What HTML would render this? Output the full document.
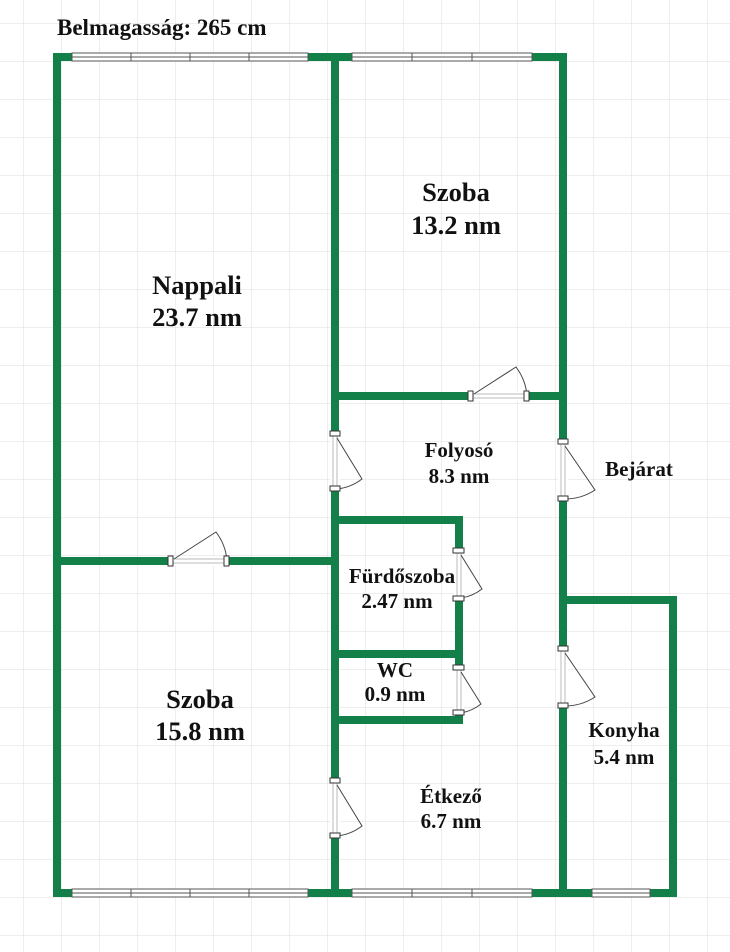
<!DOCTYPE html>
<html><head><meta charset="utf-8"><style>
html,body{margin:0;padding:0;background:#fff}
svg{display:block}
text{font-family:"Liberation Serif",serif;font-weight:bold;fill:#111}
</style></head><body>
<svg width="730" height="952" viewBox="0 0 730 952" xmlns="http://www.w3.org/2000/svg">
<defs>
<pattern id="g" x="23" y="23" width="38" height="38" patternUnits="userSpaceOnUse">
<path d="M0 0H38M0 0V38" stroke="#dedede" stroke-width="1" fill="none"/>
</pattern>
</defs>
<rect width="730" height="952" fill="url(#g)"/>
<g stroke="#13804a" stroke-width="8" fill="none" stroke-linecap="square">
<path d="M57 57H563V396"/>
<path d="M57 57V893H673V600H563"/>
<path d="M335 57V893"/>
<path d="M335 396H563"/>
<path d="M57 561H335"/>
<path d="M335 520H459V720H335"/>
<path d="M335 654H459"/>
<path d="M563 396V893"/>
</g>
<g fill="#fff" stroke="#555" stroke-width="1">
<rect x="72" y="53" width="236" height="8"/>
<rect x="352" y="53" width="180" height="8"/>
<rect x="72" y="889" width="236" height="8"/>
<rect x="352" y="889" width="180" height="8"/>
<rect x="592" y="889" width="58" height="8"/>
</g>
<g stroke="#555" stroke-width="1">
<path d="M72 57H308M352 57H532M72 893H308M352 893H532M592 893H650"/>
<path d="M131 53V61M190 53V61M249 53V61M412 53V61M472 53V61M131 889V897M190 889V897M249 889V897M412 889V897M472 889V897"/>
</g>
<g fill="#fff" stroke="none">
<rect x="470" y="391" width="57" height="10"/>
<rect x="170" y="556" width="57" height="10"/>
<rect x="330" y="433" width="10" height="56"/>
<rect x="330" y="780" width="10" height="56"/>
<rect x="558" y="441" width="10" height="58"/>
<rect x="558" y="648" width="10" height="58"/>
<rect x="454" y="550" width="10" height="48"/>
<rect x="454" y="667" width="10" height="46"/>
</g>
<g fill="none" stroke="#bbb" stroke-width="1">
<path d="M470 394H527M470 398H527M170 559H227M170 563H227"/>
<path d="M333 433V489M337 433V489M333 780V836M337 780V836M561 441V499M565 441V499M561 648V706M565 648V706M457 550V598M461 550V598M457 667V713M461 667V713"/>
</g>
<g fill="none" stroke="#444" stroke-width="1">
<path d="M474 394L516 367A55 55 0 0 1 527 396"/>
<path d="M174 559L216 532A55 55 0 0 1 227 561"/>
<path d="M337 438L362 479A50 50 0 0 1 337 489"/>
<path d="M337 785L362 826A50 50 0 0 1 337 836"/>
<path d="M565 446L595 490A55 55 0 0 1 565 499"/>
<path d="M565 653L595 697A55 55 0 0 1 565 706"/>
<path d="M461 555L482 589A45 45 0 0 1 461 598"/>
<path d="M461 672L481 704A45 45 0 0 1 461 713"/>
</g>
<g fill="#fff" stroke="#333" stroke-width="1">
<rect x="468" y="391" width="5" height="10"/><rect x="524" y="391" width="5" height="10"/>
<rect x="168" y="556" width="5" height="10"/><rect x="224" y="556" width="5" height="10"/>
<rect x="330" y="431" width="10" height="5"/><rect x="330" y="486" width="10" height="5"/>
<rect x="330" y="778" width="10" height="5"/><rect x="330" y="833" width="10" height="5"/>
<rect x="558" y="439" width="10" height="5"/><rect x="558" y="496" width="10" height="5"/>
<rect x="558" y="646" width="10" height="5"/><rect x="558" y="703" width="10" height="5"/>
<rect x="453" y="548" width="11" height="5"/><rect x="453" y="596" width="11" height="5"/>
<rect x="453" y="665" width="11" height="5"/><rect x="453" y="710" width="11" height="5"/>
</g>
<text x="57" y="35" font-size="23">Belmagasság: 265 cm</text>
<g text-anchor="middle">
<text x="197" y="294" font-size="26.5">Nappali</text>
<text x="197" y="326" font-size="26.5">23.7 nm</text>
<text x="456" y="201" font-size="26.5">Szoba</text>
<text x="456" y="234" font-size="26.5">13.2 nm</text>
<text x="200" y="708" font-size="26.5">Szoba</text>
<text x="200" y="740" font-size="26.5">15.8 nm</text>
<text x="459" y="457" font-size="21">Folyosó</text>
<text x="459" y="483" font-size="21">8.3 nm</text>
<text x="402" y="583" font-size="21">Fürdőszoba</text>
<text x="397" y="608" font-size="21">2.47 nm</text>
<text x="395" y="677" font-size="21">WC</text>
<text x="395" y="701" font-size="21">0.9 nm</text>
<text x="451" y="803" font-size="21">Étkező</text>
<text x="451" y="828" font-size="21">6.7 nm</text>
<text x="624" y="737" font-size="21">Konyha</text>
<text x="624" y="764" font-size="21">5.4 nm</text>
<text x="639" y="476" font-size="21">Bejárat</text>
</g>
</svg>
</body></html>
